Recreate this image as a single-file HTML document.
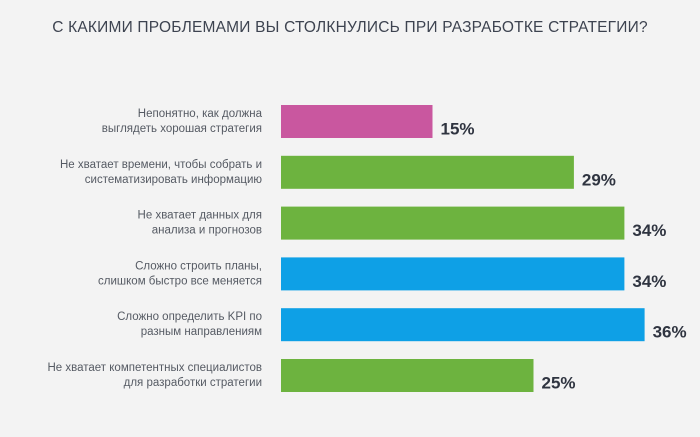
<!DOCTYPE html>
<html><head><meta charset="utf-8"><style>
body{margin:0;background:#f3f3f3;}
#c{position:relative;width:700px;height:437px;background:#f3f3f3;font-family:"Liberation Sans","DejaVu Sans",sans-serif;overflow:hidden}
#title{position:absolute;left:0;top:19px;width:700px;text-align:center;font-size:15.5px;color:#3d4350;letter-spacing:0.2px;white-space:nowrap}
</style></head><body>
<div id="c">
<div id="title">С КАКИМИ ПРОБЛЕМАМИ ВЫ СТОЛКНУЛИСЬ ПРИ РАЗРАБОТКЕ СТРАТЕГИИ?</div>
<svg id="s" width="700" height="437" style="position:absolute;left:0;top:0"></svg>
</div>
<script>
const labels1=["Непонятно, как должна","Не хватает времени, чтобы собрать и","Не хватает данных для","Сложно строить планы,","Сложно определить KPI по","Не хватает компетентных специалистов"];
const labels2=["выглядеть хорошая стратегия","систематизировать информацию","анализа и прогнозов","слишком быстро все меняется","разным направлениям","для разработки стратегии"];
const values=[15,29,34,34,36,25];
const colors=["#c9579f","#6db33f","#6db33f","#0ea0e6","#0ea0e6","#6db33f"];
const x0=281,pxPer=10.1,y0=105,pitch=50.8,h=33;
const xs=v=>x0+v*pxPer;
const s=document.getElementById('s');const NS="http://www.w3.org/2000/svg";
values.forEach((v,i)=>{
 const y=y0+i*pitch;
 const r=document.createElementNS(NS,'rect');
 
 
 r.setAttribute('x',x0);r.setAttribute('y',y);r.setAttribute('width',xs(v)-x0);r.setAttribute('height',h);r.setAttribute('fill',colors[i]);
 s.appendChild(r);
 const t=document.createElementNS(NS,'text');
 
 
 t.setAttribute('x',xs(v)+8);t.setAttribute('y',y+h/2+13);t.setAttribute('font-size','17');t.setAttribute('font-weight','bold');t.setAttribute('fill','#2f3440');
 t.textContent=v+'%';s.appendChild(t);
 [labels1[i],labels2[i]].forEach((L,j)=>{
  const c=document.createElementNS(NS,'text');
  
  
  c.setAttribute('x',262);c.setAttribute('y',y+12+j*15);c.setAttribute('text-anchor','end');c.setAttribute('font-size','11.5');c.setAttribute('fill','#555a63');
  c.textContent=L;s.appendChild(c);
 });
});
</script>
</body></html>
